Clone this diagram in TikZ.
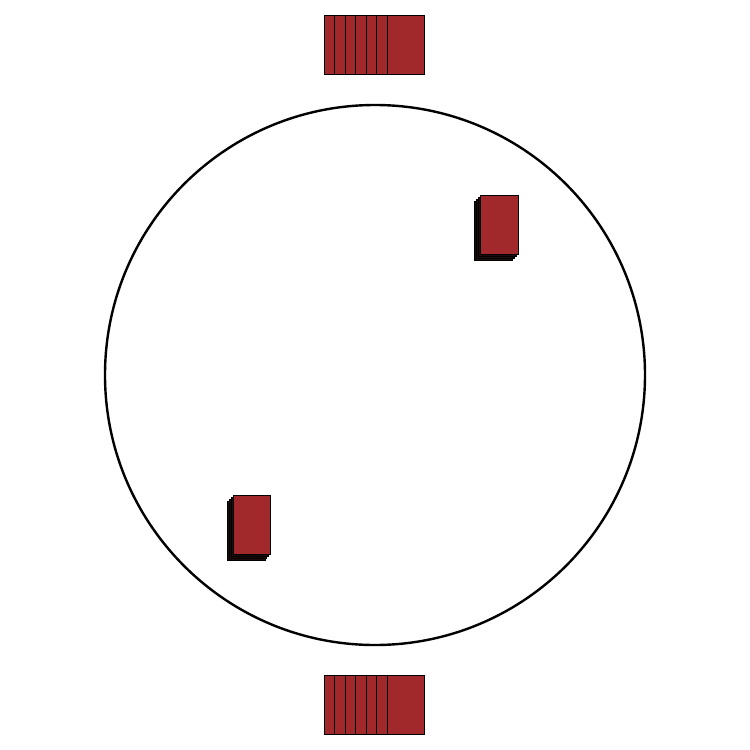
\documentclass[tikz,border=0pt]{standalone}
\definecolor{cardred}{RGB}{161,41,43}
\definecolor{carddark}{RGB}{28,12,12}
\tikzset{
  card/.style={draw=black, line width=0.9pt, fill=cardred, rectangle, inner sep=0pt, minimum width=37.5pt, minimum height=59pt, anchor=north west},
  shadowcard/.style={card, fill=carddark},
  ring/.style={draw=black, line width=2.4pt, circle, inner sep=0pt, minimum size=540pt}
}
\begin{document}
\begin{tikzpicture}[x=1pt,y=-1pt]
\useasboundingbox[fill=white] (0,0) rectangle (750,750);
\node[ring] (ring) at (375,375) {};
% top stack
\foreach \i in {0,...,6} {
  \node[card] (top\i) at ({324+10.45*\i},15.2) {};
}
% bottom stack
\foreach \i in {0,...,6} {
  \node[card] (bot\i) at ({324+10.45*\i},675.2) {};
}
% upper right card with shadow
\foreach \k in {3,2,1} {
  \node[shadowcard] (urs\k) at ({480-1.9*\k},{195+1.9*\k}) {};
}
\node[card] (ur) at (480,195) {};
% lower left card with shadow
\foreach \k in {3,2,1} {
  \node[shadowcard] (lls\k) at ({232.7-1.9*\k},{495+1.9*\k}) {};
}
\node[card] (ll) at (232.7,495) {};
\end{tikzpicture}
\end{document}
